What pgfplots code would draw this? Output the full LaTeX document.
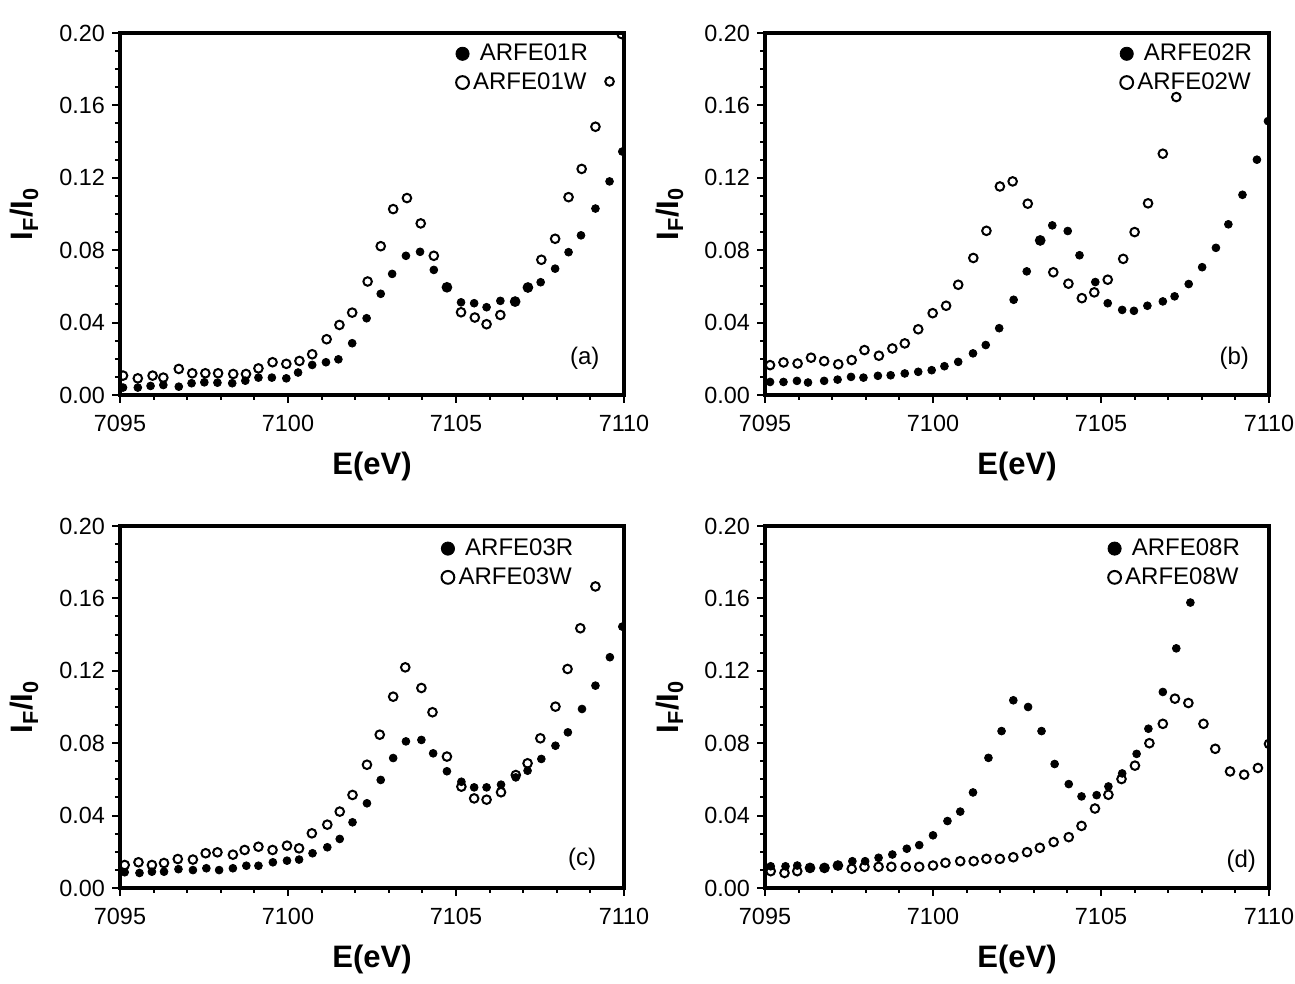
\documentclass[border=0pt]{standalone}
\usepackage{pgfplots}
\pgfplotsset{compat=1.18}
\usepackage{fontspec}
\setmainfont{Liberation Sans}

\pgfplotsset{
  panel/.style={
    scale only axis, width=252pt, height=181pt,
    xmin=7095, xmax=7110, ymin=0, ymax=0.2,
    xtick={7095,7100,7105,7110}, ytick={0,0.04,0.08,0.12,0.16,0.20},
    minor x tick num=4, minor y tick num=3,
    tick align=outside, xtick pos=bottom, ytick pos=left,
    major tick length=4pt, minor tick length=2.5pt,
    axis line style={line width=1.6pt},
    every tick/.style={black, line width=1pt},
    tick label style={font=\fontsize{11.7}{13}\selectfont},
    x tick label style={yshift=-2.5pt, /pgf/number format/.cd, set thousands separator={}, assume math mode=true},
    y tick label style={/pgf/number format/.cd, fixed, fixed zerofill, precision=2, assume math mode=true},
    label style={font=\fontsize{15.5}{18}\selectfont\bfseries},
    xlabel={E(eV)},
    ylabel={I\textsubscript{F}/I\textsubscript{0}},
    xlabel style={at={([yshift=-40pt]axis description cs:0.5,0)}, anchor=base},
    ylabel style={at={([xshift=-43.5pt]axis description cs:0,0.5)}, anchor=base},
    clip marker paths=true,
    legend style={draw=none, fill=none, inner sep=0pt, font=\fontsize{12}{13}\selectfont,
      anchor=north east, row sep=0.5pt,
      /tikz/every even column/.append style={column sep=0pt},
      /tikz/every odd column/.append style={column sep=0pt}},
    legend cell align=left,
    legend image code/.code={\draw[#1] plot coordinates {(0.13cm,0cm)};},
  },
  rser/.style={only marks, black, mark=*, mark size=1.95pt, forget plot},
  wser/.style={only marks, black, mark=o, mark size=2.15pt, line width=1pt, forget plot},
}

\newcommand{\legR}{\addlegendimage{only marks, black, mark=*, mark size=3.3pt}}
\newcommand{\legW}{\addlegendimage{only marks, black, mark=o, mark size=3.2pt, line width=1pt}}
\newcommand{\plab}[1]{\node[font=\fontsize{12}{13}\selectfont] at #1}

\begin{document}
\begin{tikzpicture}
\useasboundingbox (0,0) rectangle (647.5pt,492pt);

% (a)
\begin{axis}[panel, at={(60pt,294.5pt)}, anchor=south west,
  legend style={at={(0.937,0.982)}}]
\addplot[rser] coordinates {
(7095.09,0.0041)(7095.53,0.0041)(7095.91,0.0050)(7096.29,0.0055)(7096.75,0.0046)
(7097.13,0.0065)(7097.51,0.0070)(7097.90,0.0068)(7098.34,0.0065)(7098.73,0.0079)
(7099.12,0.0096)(7099.52,0.0096)(7099.95,0.0092)(7100.30,0.0124)(7100.72,0.0166)
(7101.13,0.0181)(7101.50,0.0197)(7101.91,0.0286)(7102.34,0.0424)(7102.76,0.0559)
(7103.10,0.0669)(7103.51,0.0769)(7103.93,0.0791)(7104.34,0.0691)(7104.73,0.0595)
(7105.15,0.0512)(7105.54,0.0507)(7105.91,0.0485)(7106.32,0.0520)(7106.76,0.0520)
(7107.14,0.0590)(7107.52,0.0623)(7107.95,0.0698)(7108.35,0.0789)(7108.72,0.0882)
(7109.15,0.1030)(7109.57,0.1180)(7109.95,0.1345)};
\addplot[wser] coordinates {
(7095.09,0.0107)(7095.53,0.0092)(7095.97,0.0107)(7096.29,0.0096)(7096.75,0.0144)
(7097.15,0.0120)(7097.54,0.0120)(7097.92,0.0120)(7098.37,0.0116)(7098.75,0.0116)
(7099.12,0.0147)(7099.54,0.0181)(7099.95,0.0172)(7100.34,0.0188)(7100.72,0.0225)
(7101.15,0.0308)(7101.53,0.0387)(7101.91,0.0455)(7102.37,0.0627)(7102.76,0.0822)
(7103.13,0.1027)(7103.54,0.1088)(7103.95,0.0948)(7104.34,0.0769)(7104.73,0.0595)
(7105.15,0.0457)(7105.56,0.0428)(7105.91,0.0391)(7106.32,0.0442)(7106.76,0.0516)
(7107.14,0.0594)(7107.54,0.0747)(7107.95,0.0863)(7108.35,0.1093)(7108.74,0.1249)
(7109.15,0.1482)(7109.57,0.1732)(7109.93,0.1994)};
\legR \addlegendentry{\ ARFE01R}
\legW \addlegendentry{ARFE01W}
\plab{(rel axis cs:0.922,0.102)} {(a)};
\end{axis}

% (b)
\begin{axis}[panel, at={(382.5pt,294.5pt)}, anchor=south west,
  legend style={at={(0.975,0.982)}}]
\addplot[rser] coordinates {
(7095.15,0.0072)(7095.55,0.0072)(7095.95,0.0078)(7096.28,0.0069)(7096.76,0.0078)
(7097.16,0.0085)(7097.56,0.0100)(7097.93,0.0096)(7098.36,0.0106)(7098.74,0.0109)
(7099.16,0.0119)(7099.56,0.0128)(7099.96,0.0137)(7100.34,0.0159)(7100.75,0.0183)
(7101.19,0.0230)(7101.57,0.0276)(7101.97,0.0369)(7102.40,0.0526)(7102.79,0.0683)
(7103.19,0.0850)(7103.55,0.0937)(7104.01,0.0906)(7104.36,0.0772)(7104.83,0.0624)
(7105.20,0.0507)(7105.63,0.0470)(7105.98,0.0465)(7106.38,0.0493)(7106.84,0.0517)
(7107.19,0.0545)(7107.61,0.0613)(7108.01,0.0706)(7108.42,0.0813)(7108.79,0.0943)
(7109.21,0.1106)(7109.64,0.1300)(7109.97,0.1513)};
\addplot[wser] coordinates {
(7095.15,0.0165)(7095.55,0.0180)(7095.97,0.0174)(7096.37,0.0206)(7096.76,0.0187)
(7097.18,0.0170)(7097.58,0.0193)(7097.96,0.0248)(7098.39,0.0217)(7098.79,0.0257)
(7099.16,0.0285)(7099.56,0.0363)(7099.99,0.0452)(7100.39,0.0493)(7100.75,0.0609)
(7101.20,0.0757)(7101.59,0.0907)(7101.99,0.1152)(7102.37,0.1180)(7102.82,0.1057)
(7103.19,0.0854)(7103.58,0.0678)(7104.03,0.0615)(7104.43,0.0535)(7104.80,0.0567)
(7105.20,0.0637)(7105.66,0.0752)(7106.00,0.0900)(7106.40,0.1059)(7106.84,0.1333)
(7107.24,0.1646)};
\legR \addlegendentry{\ ARFE02R}
\legW \addlegendentry{ARFE02W}
\plab{(rel axis cs:0.931,0.102)} {(b)};
\end{axis}

% (c)
\begin{axis}[panel, at={(60pt,48pt)}, anchor=south west,
  legend style={at={(0.908,0.977)}}]
\addplot[rser] coordinates {
(7095.14,0.0087)(7095.58,0.0083)(7095.95,0.0090)(7096.31,0.0090)(7096.74,0.0104)
(7097.17,0.0099)(7097.57,0.0109)(7097.95,0.0099)(7098.36,0.0109)(7098.76,0.0123)
(7099.12,0.0123)(7099.55,0.0142)(7099.97,0.0151)(7100.33,0.0157)(7100.73,0.0192)
(7101.17,0.0225)(7101.54,0.0271)(7101.92,0.0363)(7102.35,0.0468)(7102.76,0.0597)
(7103.13,0.0718)(7103.51,0.0810)(7103.97,0.0818)(7104.32,0.0744)(7104.73,0.0645)
(7105.16,0.0587)(7105.54,0.0556)(7105.91,0.0556)(7106.34,0.0571)(7106.78,0.0611)
(7107.13,0.0648)(7107.54,0.0713)(7107.96,0.0786)(7108.33,0.0860)(7108.75,0.0989)
(7109.15,0.1118)(7109.58,0.1275)(7109.95,0.1444)};
\addplot[wser] coordinates {
(7095.14,0.0127)(7095.55,0.0142)(7095.95,0.0127)(7096.31,0.0138)(7096.72,0.0160)
(7097.17,0.0157)(7097.55,0.0192)(7097.90,0.0197)(7098.36,0.0184)(7098.71,0.0210)
(7099.12,0.0228)(7099.54,0.0210)(7099.97,0.0234)(7100.33,0.0219)(7100.71,0.0302)
(7101.17,0.0350)(7101.54,0.0422)(7101.92,0.0514)(7102.35,0.0681)(7102.73,0.0847)
(7103.13,0.1057)(7103.49,0.1219)(7103.97,0.1105)(7104.30,0.0971)(7104.73,0.0726)
(7105.16,0.0560)(7105.54,0.0495)(7105.91,0.0488)(7106.34,0.0529)(7106.78,0.0624)
(7107.13,0.0689)(7107.51,0.0827)(7107.96,0.1002)(7108.32,0.1210)(7108.70,0.1435)
(7109.15,0.1666)};
\legR \addlegendentry{\ ARFE03R}
\legW \addlegendentry{ARFE03W}
\plab{(rel axis cs:0.917,0.078)} {(c)};
\end{axis}

% (d)
\begin{axis}[panel, at={(382.5pt,48pt)}, anchor=south west,
  legend style={at={(0.951,0.977)}}]
\addplot[rser] coordinates {
(7095.17,0.0120)(7095.61,0.0120)(7095.96,0.0124)(7096.34,0.0111)(7096.77,0.0111)
(7097.17,0.0124)(7097.60,0.0148)(7097.98,0.0148)(7098.38,0.0167)(7098.79,0.0185)
(7099.22,0.0217)(7099.59,0.0237)(7100.00,0.0291)(7100.43,0.0370)(7100.81,0.0422)
(7101.19,0.0528)(7101.65,0.0719)(7102.04,0.0867)(7102.39,0.1037)(7102.83,0.1000)
(7103.23,0.0867)(7103.62,0.0685)(7104.04,0.0574)(7104.42,0.0506)(7104.87,0.0513)
(7105.22,0.0561)(7105.63,0.0633)(7106.06,0.0741)(7106.41,0.0880)(7106.84,0.1083)
(7107.24,0.1324)(7107.66,0.1577)};
\addplot[wser] coordinates {
(7095.17,0.0093)(7095.58,0.0083)(7095.96,0.0093)(7096.34,0.0111)(7096.77,0.0111)
(7097.17,0.0124)(7097.58,0.0106)(7097.96,0.0117)(7098.38,0.0117)(7098.76,0.0117)
(7099.19,0.0117)(7099.59,0.0117)(7100.00,0.0124)(7100.37,0.0139)(7100.81,0.0148)
(7101.21,0.0148)(7101.59,0.0161)(7101.99,0.0161)(7102.39,0.0170)(7102.80,0.0198)
(7103.18,0.0222)(7103.59,0.0254)(7104.04,0.0281)(7104.42,0.0343)(7104.82,0.0439)
(7105.22,0.0515)(7105.61,0.0602)(7106.01,0.0676)(7106.44,0.0800)(7106.84,0.0907)
(7107.20,0.1046)(7107.60,0.1022)(7108.05,0.0907)(7108.40,0.0769)(7108.84,0.0644)
(7109.26,0.0626)(7109.67,0.0663)(7110.00,0.0796)};
\legR \addlegendentry{\ ARFE08R}
\legW \addlegendentry{ARFE08W}
\plab{(rel axis cs:0.945,0.073)} {(d)};
\end{axis}
\end{tikzpicture}
\end{document}
